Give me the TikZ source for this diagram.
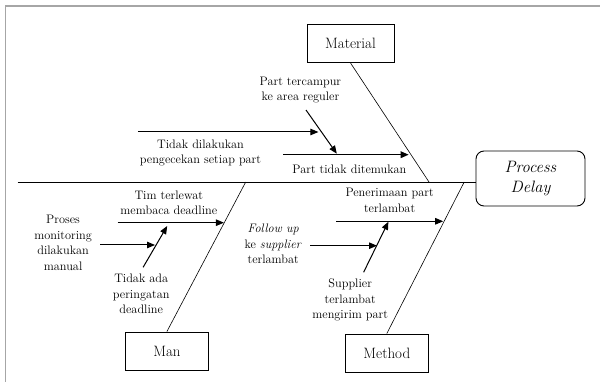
\documentclass[tikz,border=0pt]{standalone}
\usetikzlibrary{arrows.meta}
\tikzset{
  catbox/.style={draw, line width=0.9pt, minimum height=38pt, inner sep=0pt,
    font=\fontsize{15}{19}\selectfont},
  lbl/.style={align=center, inner sep=0pt, font=\fontsize{12.3}{15.5}\selectfont},
  bone/.style={line width=0.6pt},
  cause/.style={line width=1pt, -{Triangle[length=8pt,width=6.5pt]}}
}
\begin{document}
\begin{tikzpicture}[x=1pt,y=-1pt]
\useasboundingbox (0,0) rectangle (600,382);
\draw[gray!70, line width=1.4pt] (5.7,382) -- (5.7,6) -- (600,6);

% head and categories
\node[catbox, minimum width=109pt, minimum height=55pt, rounded corners=8pt, align=center,
  font=\fontsize{16.5}{20.5}\selectfont\itshape] (effect) at (530.5,178.5) {Process\\Delay};
\node[catbox, minimum width=87pt] (material) at (350.5,43.5) {Material};
\node[catbox, minimum width=82.7pt] (man) at (166.9,351) {Man};
\node[catbox, minimum width=82.3pt] (method) at (386.8,353) {Method};

% spine and bones
\coordinate (tail) at (17.6,182);
\coordinate (matjoint) at (429,182);
\coordinate (manjoint) at (245.7,182);
\coordinate (methjoint) at (464.2,182);
\draw[bone] (tail) -- (tail -| effect.west);
\draw[bone] (material.south) -- (matjoint);
\draw[bone] (man.north) -- (manjoint);
\draw[bone] (method.north) -- (methjoint);

% material
\coordinate (mat1a) at (137.8,132);   \coordinate (mat1b) at (318.4,132);
\coordinate (mat2a) at (306,110);     \coordinate (mat2b) at (336.8,153.7);
\coordinate (mat3a) at (283.2,154.7); \coordinate (mat3b) at (408.7,154.7);
\draw[cause] (mat1a) -- (mat1b);
\draw[cause] (mat2a) -- (mat2b);
\draw[cause, line width=1.6pt] (mat3a) -- (mat3b);
\node[lbl] (tercampur) at (300.4,89.9) {Part tercampur\\ke area reguler};
\node[lbl] (pengecekan) at (200.5,152.9) {Tidak dilakukan\\pengecekan setiap part};
\node[lbl] (ditemukan) at (349.4,169.3) {Part tidak ditemukan};

% man
\coordinate (man1a) at (117.5,222.7); \coordinate (man1b) at (223.9,222.7);
\coordinate (man2a) at (100.3,245);   \coordinate (man2b) at (155,245);
\coordinate (man3a) at (143.1,267.3); \coordinate (man3b) at (167.2,226);
\draw[cause] (man1a) -- (man1b);
\draw[cause] (man2a) -- (man2b);
\draw[cause] (man3a) -- (man3b);
\node[lbl] (terlewat) at (168.8,202.7) {Tim terlewat\\membaca deadline};
\node[lbl] (monitoring) at (63.1,242.7) {Proses\\monitoring\\dilakukan\\manual};
\node[lbl] (peringatan) at (141.2,293.9) {Tidak ada\\peringatan\\deadline};

% method
\coordinate (met1a) at (336,221.3);   \coordinate (met1b) at (443.2,221.3);
\coordinate (met2a) at (310,245.7);   \coordinate (met2b) at (377,245.7);
\coordinate (met3a) at (363.6,272.3); \coordinate (met3b) at (388.4,221.7);
\draw[cause] (met1a) -- (met1b);
\draw[cause] (met2a) -- (met2b);
\draw[cause] (met3a) -- (met3b);
\node[lbl] (penerimaan) at (389.6,200.4) {Penerimaan part\\terlambat};
\node[lbl] (followup) at (273.2,244) {\textit{Follow up}\\ke \textit{supplier}\\terlambat};
\node[lbl] (supplier) at (350.2,300) {Supplier\\terlambat\\mengirim part};
\end{tikzpicture}
\end{document}
